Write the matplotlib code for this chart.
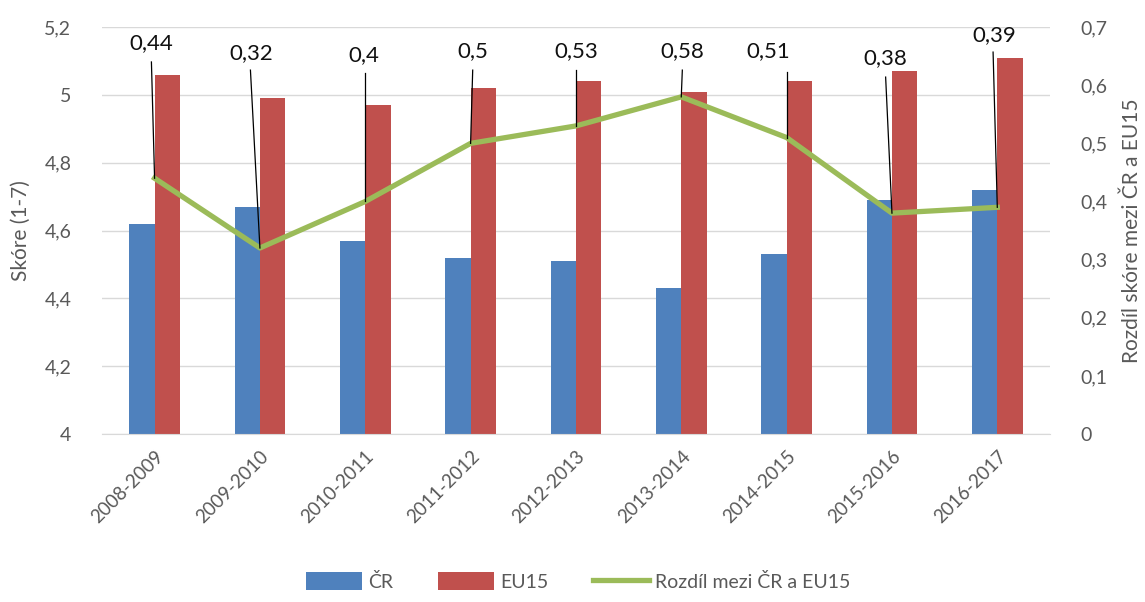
import matplotlib
matplotlib.use("Agg")
import matplotlib.pyplot as plt
import numpy as np

plt.rcParams['font.family'] = ['Lato', 'DejaVu Sans']

# data
obdobi = ["2008-2009", "2009-2010", "2010-2011", "2011-2012", "2012-2013",
          "2013-2014", "2014-2015", "2015-2016", "2016-2017"]
cr = [4.62, 4.67, 4.57, 4.52, 4.51, 4.43, 4.53, 4.69, 4.72]
eu15 = [5.06, 4.99, 4.97, 5.02, 5.04, 5.01, 5.04, 5.07, 5.11]
rozdil = [0.44, 0.32, 0.40, 0.50, 0.53, 0.58, 0.51, 0.38, 0.39]
popisky = ["0,44", "0,32", "0,4", "0,5", "0,53", "0,58", "0,51", "0,38", "0,39"]

# umisteni popisku: posun textu v x (kategorie), vyska textu (prava osa),
# posun a vyska zacatku vodici cary
lab_dx = [-0.03, -0.08, -0.01, 0.02, 0.0, 0.01, -0.17, -0.06, -0.03]
lab_y = [0.673, 0.656, 0.651, 0.658, 0.658, 0.658, 0.658, 0.646, 0.687]
car_dx = [-0.03, -0.09, 0.0, 0.02, 0.0, 0.01, 0.0, -0.06, -0.04]
car_y = [0.640, 0.626, 0.621, 0.626, 0.626, 0.626, 0.623, 0.614, 0.657]

modra = "#4F81BD"
cervena = "#C0504D"
zelena = "#9BBB59"
seda = "#595959"

fig = plt.figure(figsize=(11.45, 6.02), dpi=100)
ax = fig.add_axes([0.089, 0.279, 0.828, 0.676])
ax2 = ax.twinx()

x = np.arange(len(obdobi))
w = 0.24
ax.bar(x - w/2, cr, w, color=modra, label="ČR", zorder=2)
ax.bar(x + w/2, eu15, w, color=cervena, label="EU15", zorder=2)

ax.set_ylim(4, 5.2)
ax.set_xlim(-0.5, len(obdobi) - 0.5)
ax.set_yticks(np.arange(4, 5.21, 0.2))
ax.set_yticklabels(["4", "4,2", "4,4", "4,6", "4,8", "5", "5,2"])
ax.grid(axis='y', color="#d9d9d9", lw=1, zorder=0)
ax.set_axisbelow(True)
ax.set_xticks(x)
ax.set_xticklabels(obdobi, rotation=45, ha='right', rotation_mode='anchor')
ax.tick_params(axis='x', length=0, pad=10, labelsize=13.5, labelcolor=seda)
ax.tick_params(axis='y', length=0, pad=22, labelsize=14, labelcolor=seda)
ax.set_ylabel("Skóre (1-7)", fontsize=15, color=seda, labelpad=10)

ln, = ax2.plot(x, rozdil, color=zelena, lw=3.8, solid_joinstyle='round',
               label="Rozdíl mezi ČR a EU15", zorder=3)
ax2.set_ylim(0, 0.7)
ax2.set_yticks(np.arange(0, 0.71, 0.1))
ax2.set_yticklabels(["0", "0,1", "0,2", "0,3", "0,4", "0,5", "0,6", "0,7"])
ax2.tick_params(axis='y', length=0, pad=22, labelsize=14, labelcolor=seda)
ax2.set_ylabel("Rozdíl skóre mezi ČR a EU15", fontsize=15, color=seda,
               labelpad=10)

for a in (ax, ax2):
    for s in a.spines.values():
        s.set_visible(False)
ax.spines['bottom'].set_visible(True)
ax.spines['bottom'].set_color("#d9d9d9")

for i, v in enumerate(rozdil):
    ax2.plot([x[i] + car_dx[i], x[i]], [car_y[i], v], color='black', lw=0.9,
             zorder=4)
    ax2.text(x[i] + lab_dx[i], lab_y[i], popisky[i], ha='center',
             va='center', fontsize=16, color="#111111", zorder=5)

h1, l1 = ax.get_legend_handles_labels()
fig.legend(h1 + [ln], l1 + [ln.get_label()], loc='lower center',
           bbox_to_anchor=(0.505, -0.01), ncol=3, frameon=False, fontsize=14,
           labelcolor=seda, handlelength=2.9, handleheight=1.1,
           columnspacing=2.3, handletextpad=0.3)

fig.savefig("out.png", dpi=100)
